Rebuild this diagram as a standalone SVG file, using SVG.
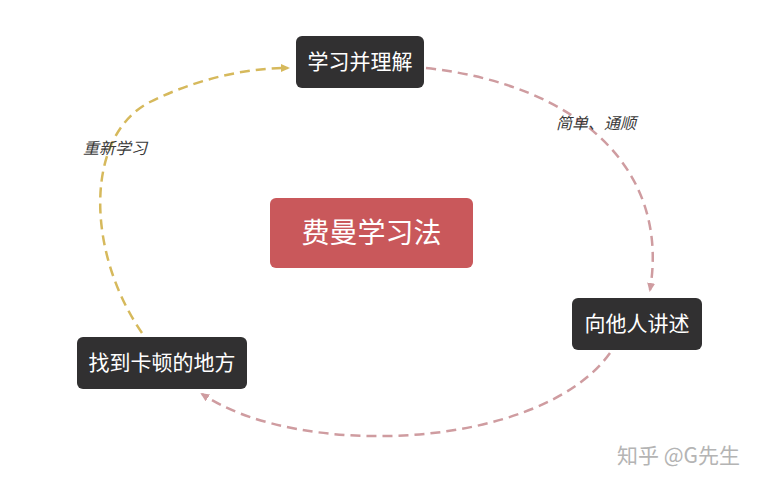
<svg xmlns="http://www.w3.org/2000/svg" width="773" height="487" viewBox="0 0 773 487">
<style>
.node{fill:#313031;}
.nt{fill:#ffffff;font-family:"Noto Sans CJK SC","Noto Sans",sans-serif;font-size:21px;text-anchor:middle;}
.lbl{fill:#3a3a3a;font-family:"Noto Sans CJK SC",sans-serif;font-size:16px;font-style:italic;}
.y{fill:none;stroke:#d6b95c;stroke-width:2.5;stroke-dasharray:10 6;}
.p{fill:none;stroke:#cf9ca0;stroke-width:2.5;stroke-dasharray:10 6;}
</style>
<defs>
<marker id="ay" markerWidth="10" markerHeight="10" refX="7" refY="5" orient="auto" markerUnits="userSpaceOnUse"><path d="M0,1 L9,5 L0,9 z" fill="#d6b95c"/></marker>
<marker id="ap" markerWidth="10" markerHeight="10" refX="7" refY="5" orient="auto" markerUnits="userSpaceOnUse"><path d="M0,1 L9,5 L0,9 z" fill="#cf9ca0"/></marker>
</defs>
<rect width="773" height="487" fill="#ffffff"/>
<g id="connectors">
<path class="y" d="M142,333 C85,250 85,135 150,102 C190,82 240,68 288,68" marker-end="url(#ay)"/>
<path class="p" d="M426,68 C580,85 670,170 650,290" marker-end="url(#ap)"/>
<path class="p" d="M610,353 C540,450 300,460 202,394" marker-end="url(#ap)"/>
<text class="lbl" x="83" y="154">重新学习</text>
<text class="lbl" x="556" y="129">简单、通顺</text>
</g>
<g id="center">
<rect x="270" y="198" width="203" height="70" rx="6" fill="#c9585b"/>
<text x="371.5" y="243" fill="#ffffff" font-family="Noto Sans CJK SC, sans-serif" font-size="28" text-anchor="middle">费曼学习法</text>
</g>
<g id="n1">
<rect class="node" x="296" y="36" width="128" height="52" rx="6"/>
<text class="nt" x="360" y="69">学习并理解</text>
</g>
<g id="n2">
<rect class="node" x="572" y="298" width="130" height="52" rx="6"/>
<text class="nt" x="637" y="331">向他人讲述</text>
</g>
<g id="n3">
<rect class="node" x="77" y="337" width="170" height="52" rx="6"/>
<text class="nt" x="162" y="370">找到卡顿的地方</text>
</g>
<text x="617" y="463" fill="#b4b4b4" font-family="Noto Sans CJK SC, sans-serif" font-size="21">知乎 @G先生</text>
</svg>
